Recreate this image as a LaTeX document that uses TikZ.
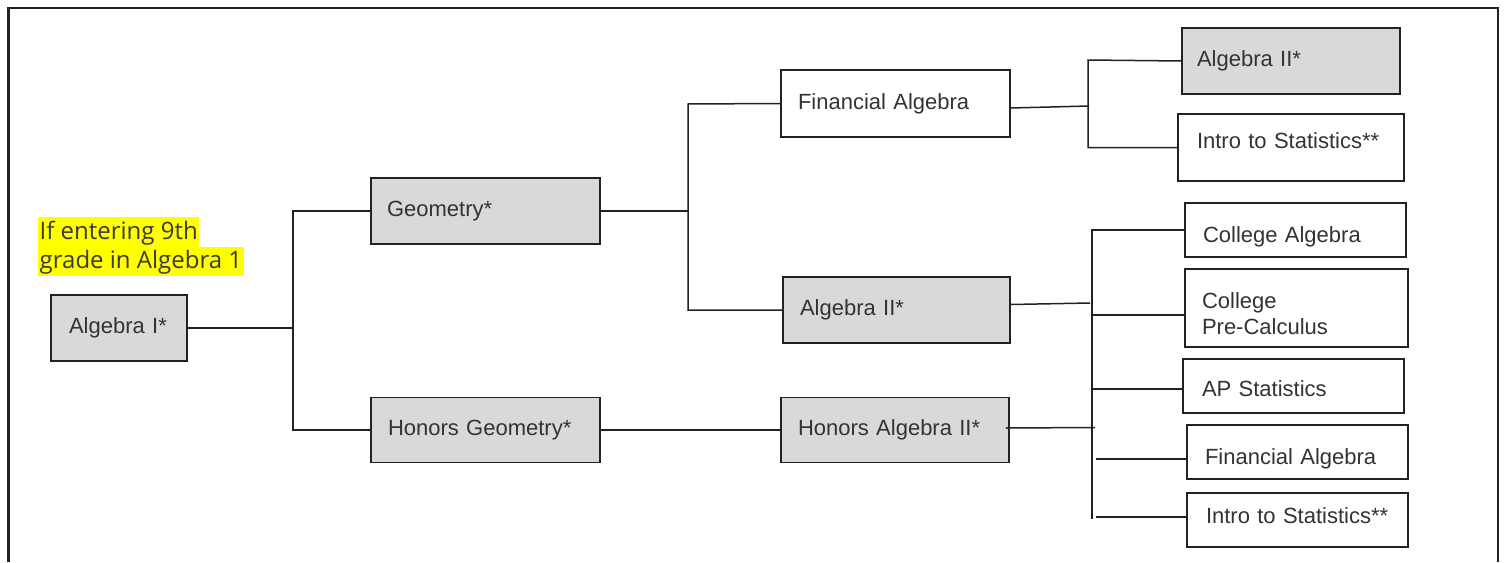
\documentclass[tikz,border=0pt]{standalone}
\usepackage{fontspec}
\setmainfont{Liberation Sans}
\newfontfamily\hlfont{Open Sans}
\definecolor{linec}{HTML}{222222}
\definecolor{boxgray}{HTML}{D9D9D9}
\definecolor{txtc}{HTML}{333333}
\definecolor{hlyellow}{HTML}{FFFF00}
\definecolor{hltext}{HTML}{3A3A3A}
\tikzset{
  box/.style={draw=linec, line width=1.6pt, text=txtc, font=\fontsize{22}{26.5}\selectfont,
    align=left, inner ysep=0pt, anchor=center, text height=16pt, text depth=5pt},
  gbox/.style={box, fill=boxgray},
  wbox/.style={box, fill=white},
  conn/.style={draw=linec, line width=1.5pt},
  frame/.style={draw=linec, line width=2.4pt},
  hl/.style={fill=hlyellow, text=hltext, font=\hlfont\fontsize{24}{29}\selectfont,
    inner xsep=1.5pt, inner ysep=0pt, anchor=base west}
}
\begin{document}
\begin{tikzpicture}[x=1pt,y=-1pt]
\useasboundingbox (0,0) rectangle (1504,562);
\fill[white] (0,0) rectangle (1504,562);
\draw[frame] (8.5,562) -- (8.5,8) -- (1498,8) -- (1498,562);

% highlighted note
\node[hl, text height=22pt, text depth=7.5pt] (note1) at (38,239) {If entering 9th};
\node[hl, text height=21.5pt, text depth=8pt] (note2) at (38,268) {grade in Algebra 1};

% boxes
\node[gbox, minimum width=136pt, minimum height=66pt, inner xsep=18pt, text width=100pt] (alg1) at (119,328) {Algebra I*};
\node[gbox, minimum width=229pt, minimum height=66pt, inner xsep=16pt, text width=197pt] (geo) at (485.5,211) {Geometry*};
\node[gbox, minimum width=229pt, minimum height=65pt, inner xsep=17pt, text width=195pt] (hgeo) at (485.5,430) {Honors Geometry*};
\node[wbox, minimum width=229pt, minimum height=67pt, inner xsep=17pt, text width=195pt] (fin1) at (895.5,103.5) {Financial Algebra};
\node[gbox, minimum width=227pt, minimum height=66pt, inner xsep=17pt, text width=193pt] (alg2) at (896.5,310) {Algebra II*};
\node[gbox, minimum width=228pt, minimum height=65pt, inner xsep=17pt, text width=194pt] (halg2) at (895,430) {Honors Algebra II*};
\node[gbox, minimum width=218pt, minimum height=66pt, inner xsep=15pt, text width=188pt] (alg2t) at (1291,61) {Algebra II*};
\node[wbox, minimum width=226pt, minimum height=67pt, inner xsep=19pt, text width=188pt, text depth=15pt] (intro1) at (1291,147.5) {Intro to Statistics**};
\node[wbox, minimum width=221pt, minimum height=54pt, inner xsep=18pt, text width=185pt, text height=29pt] (colalg) at (1295.5,230) {College Algebra};
\node[wbox, minimum width=223pt, minimum height=78pt, inner xsep=17pt, text width=189pt, text height=32pt, text depth=31.5pt] (precalc) at (1296.5,308) {College\\Pre-Calculus};
\node[wbox, minimum width=221pt, minimum height=54pt, inner xsep=19pt, text width=183pt, text height=25.4pt] (apstat) at (1293.5,386) {AP Statistics};
\node[wbox, minimum width=221pt, minimum height=54pt, inner xsep=18pt, text width=185pt, text height=29.2pt] (fin2) at (1297.5,452) {Financial Algebra};
\node[wbox, minimum width=221pt, minimum height=54pt, inner xsep=19pt, text width=183pt, text depth=9.2pt] (intro2) at (1297.5,520) {Intro to Statistics**};

% connectors
\coordinate (v1t) at (293,211);
\coordinate (v1b) at (293,430);
\draw[conn] (alg1.east) -- (alg1.east -| v1t);
\draw[conn] (geo.west) -- (v1t) -- (v1b) -- (hgeo.west);

\coordinate (v2t) at (688,104);
\coordinate (v2b) at (688,310);
\draw[conn] (geo.east) -- (geo.east -| v2t);
\draw[conn] (fin1.west) -- (v2t) -- (v2b) -- (alg2.west);

\draw[conn] (hgeo.east) -- (halg2.west);

\coordinate (j2) at (1089,106);
\coordinate (v3t) at (1088,60);
\coordinate (v3b) at (1088,147.5);
\draw[conn] ([yshift=-4.5pt]fin1.east) -- (j2);
\draw[conn] (alg2t.west) -- (v3t) -- (v3b) -- (intro1.west);

\coordinate (v4t) at (1092,230);
\coordinate (v4b) at (1092,519);
\draw[conn] (colalg.west) -- (v4t) -- (v4b);
\coordinate (j3) at (1090,303);
\draw[conn] ([yshift=5.5pt]alg2.east) -- (j3);
\coordinate (b2) at (1093,315);
\draw[conn] (b2) -- (precalc.west |- b2);
\coordinate (b3) at (1092,389);
\draw[conn] (b3) -- (apstat.west |- b3);
\coordinate (b4) at (1096,459);
\draw[conn] (b4) -- (fin2.west |- b4);
\coordinate (b5) at (1096,517);
\draw[conn] (b5) -- (intro2.west |- b5);
\coordinate (j4) at (1095,427.5);
\draw[conn] ([yshift=2pt,xshift=-4pt]halg2.east) -- (j4);
\end{tikzpicture}
\end{document}
